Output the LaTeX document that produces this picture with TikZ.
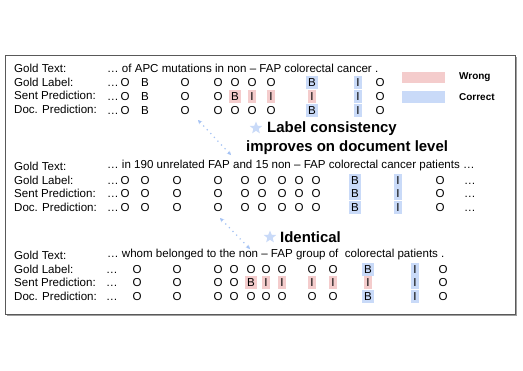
\documentclass[tikz,border=0pt]{standalone}
\usepackage{fontspec}
\setmainfont{Liberation Sans}
\usetikzlibrary{shapes.geometric, arrows.meta}
\definecolor{wrongred}{HTML}{F4CCCC}
\definecolor{rightblue}{HTML}{C9DAF8}
\definecolor{hintblue}{HTML}{A4C2F4}

\begin{document}
\begin{tikzpicture}[
    x=1bp, y=-1bp,
    every node/.style={font=\fontsize{11.6}{13}\selectfont},
    rowname/.style={anchor=west, inner sep=0pt},
    sent/.style={anchor=west, inner sep=0pt},
    tok/.style={inner xsep=2bp, inner ysep=0pt, minimum height=13bp, text height=8.3bp, text depth=0pt},
    wronglab/.style={tok, fill=wrongred},
    rightlab/.style={tok, fill=rightblue},
    keybox/.style={minimum width=43bp, minimum height=11.5bp, inner sep=0pt},
    keytext/.style={anchor=west, inner sep=0pt, font=\fontsize{10}{12}\selectfont\bfseries},
    note/.style={anchor=west, inner sep=0pt, font=\fontsize{15}{18}\selectfont\bfseries},
    starmark/.style={star, star points=5, star point ratio=2.3, fill=rightblue, minimum size=13bp, inner sep=0pt},
    hint/.style={{Stealth[length=4bp,width=4bp]}-{Stealth[length=4bp,width=4bp]}, draw=hintblue, line width=1.2bp, dash pattern=on 1.2bp off 4bp}
]
\useasboundingbox (0,0) rectangle (523,370);

% frame with shadow
\fill[gray!75] (7,57) rectangle (517,316);
\draw[gray!70!black, fill=white, line width=0.8bp] (5,55) rectangle (515,314);

% row names
\foreach \b/\y in {1/68, 2/166, 3/255} {
  \node[rowname] (gt\b) at (14,\y) {Gold Text:};
  \node[rowname] (gl\b) at (14,\y+14) {Gold Label:};
  \node[rowname] (sp\b) at (14,\y+27.5) {Sent Prediction:};
  \node[rowname] (dp\b) at (14,\y+41.5) {Doc. Prediction:};
}

% block 1
\node[sent] (txt1) at (107,68) {… of APC mutations in non – FAP colorectal cancer .};
\foreach \y/\r in {82/gl, 96/sp, 110/dp}
  \node[tok] (\r1-dots) at (113,\y) {…};
\foreach \x/\t/\s [count=\i] in {125/O/tok, 145/B/tok, 185/O/tok, 218/O/tok, 235/O/tok, 252/O/tok, 271/O/tok, 312/B/rightlab, 358/I/rightlab, 380/O/tok}
  \node[\s] (gl1-\i) at (\x,82) {\t};
\foreach \x/\t/\s [count=\i] in {125/O/tok, 145/B/tok, 185/O/tok, 218/O/tok, 235/B/wronglab, 252/I/wronglab, 271/I/wronglab, 312/I/wronglab, 358/I/rightlab, 380/O/tok}
  \node[\s] (sp1-\i) at (\x,96) {\t};
\foreach \x/\t/\s [count=\i] in {125/O/tok, 145/B/tok, 185/O/tok, 218/O/tok, 235/O/tok, 252/O/tok, 271/O/tok, 312/B/rightlab, 358/I/rightlab, 380/O/tok}
  \node[\s] (dp1-\i) at (\x,110) {\t};

% legend
\node[keybox, fill=wrongred] (wrongkey) at (423.5,77.5) {};
\node[keytext] (wronglbl) at (459,77) {Wrong};
\node[keybox, fill=rightblue] (rightkey) at (423.5,97) {};
\node[keytext] (rightlbl) at (459,97) {Correct};

% note 1
\coordinate (h1a) at (198,120);
\coordinate (h1b) at (231,155);
\draw[hint] (h1a) -- (h1b);
\node[starmark] (star1) at (256,128) {};
\node[note] (note1a) at (267,129) {Label consistency};
\node[note] (note1b) at (246,148) {improves on document level};

% block 2
\node[sent] (txt2) at (107,166) {… in 190 unrelated FAP and 15 non – FAP colorectal cancer patients …};
\foreach \y/\r in {180/gl, 193.5/sp, 207.5/dp} {
  \node[tok] (\r2-dots) at (113,\y) {…};
  \foreach \x/\t/\s [count=\i] in {125/O/tok, 145/O/tok, 177/O/tok, 218/O/tok, 245/O/tok, 262/O/tok, 282/O/tok, 299/O/tok, 316/O/tok, 355/B/rightlab, 398/I/rightlab, 440/O/tok, 470/…/tok}
    \node[\s] (\r2-\i) at (\x,\y) {\t};
}

% note 2
\coordinate (h2a) at (220,218);
\coordinate (h2b) at (250,249);
\draw[hint] (h2a) -- (h2b);
\node[starmark] (star2) at (270,237) {};
\node[note] (note2) at (280,237) {Identical};

% block 3
\node[sent] (txt3) at (107,255) {… whom belonged to the non – FAP group of \ colorectal patients .};
\foreach \y/\r in {269/gl, 282.5/sp, 296.5/dp}
  \node[tok] (\r3-dots) at (112,\y) {…};
\foreach \x/\t/\s [count=\i] in {137/O/tok, 177/O/tok, 218/O/tok, 234/O/tok, 251/O/tok, 266/O/tok, 282/O/tok, 312/O/tok, 333/O/tok, 368/B/rightlab, 415/I/rightlab, 443/O/tok}
  \node[\s] (gl3-\i) at (\x,269) {\t};
\foreach \x/\t/\s [count=\i] in {137/O/tok, 177/O/tok, 218/O/tok, 234/O/tok, 251/B/wronglab, 266/I/wronglab, 282/I/wronglab, 312/I/wronglab, 333/I/wronglab, 368/I/wronglab, 415/I/rightlab, 443/O/tok}
  \node[\s] (sp3-\i) at (\x,282.5) {\t};
\foreach \x/\t/\s [count=\i] in {137/O/tok, 177/O/tok, 218/O/tok, 234/O/tok, 251/O/tok, 266/O/tok, 282/O/tok, 312/O/tok, 333/O/tok, 368/B/rightlab, 415/I/rightlab, 443/O/tok}
  \node[\s] (dp3-\i) at (\x,296.5) {\t};
\end{tikzpicture}
\end{document}
